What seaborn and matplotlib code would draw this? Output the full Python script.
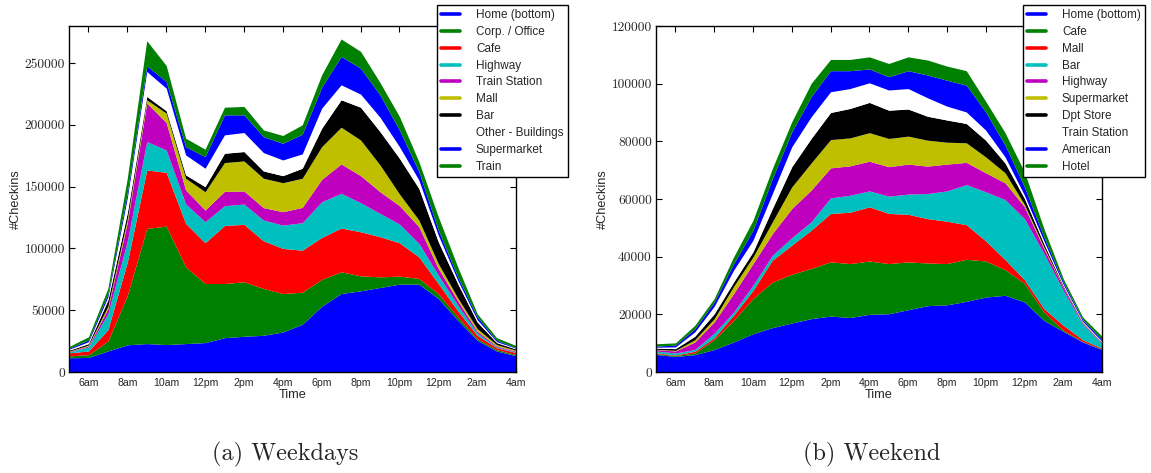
import numpy as np
import matplotlib
matplotlib.use("Agg")
import matplotlib.pyplot as plt
import seaborn as sns
from matplotlib.lines import Line2D

# ---------------- data ----------------
hours = np.arange(24)                      # 0 = 5am ... 23 = 4am
tick_pos = np.arange(1, 24, 2)
tick_labels = ['6am', '8am', '10am', '12pm', '2pm', '4pm', '6pm', '8pm',
               '10pm', '12pm', '2am', '4am']

# Weekdays: upper edge of each stacked layer (cumulative #checkins)
wd_labels = ['Home (bottom)', 'Corp. / Office', 'Cafe', 'Highway', 'Train Station',
             'Mall', 'Bar', 'Other - Buildings', 'Supermarket', 'Train']
wd_home = [11500, 11800, 17000, 22000, 23000, 22200, 23000, 23800, 27800, 28900, 29700, 32400,
           38600, 53200, 63500, 65700, 68400, 71100, 71100, 59500, 41900, 25700, 17000, 13200]
wd_corp = [13000, 14000, 25000, 62000, 116200, 118100, 85100, 71600, 71600, 73000, 67600, 63500,
           64600, 74900, 81100, 77800, 77000, 77600, 75700, 63500, 44600, 27000, 18100, 14100]
wd_cafe = [15500, 17000, 34300, 89000, 163500, 161600, 120300, 104600, 118600, 119500, 106200, 100000,
           98600, 108900, 116500, 113500, 109500, 104600, 93200, 71600, 49500, 29700, 19700, 15700]
wd_highway = [16200, 20300, 47300, 106000, 186500, 179700, 136000, 121600, 134600, 135900, 123000, 118900,
              120800, 137800, 144600, 137000, 128400, 119700, 104100, 78400, 54100, 31600, 20300, 16200]
wd_trainst = [16500, 21100, 51300, 121000, 217600, 201900, 147300, 131100, 146200, 146500, 133000, 129700,
              133200, 155900, 168400, 158900, 145900, 134600, 117600, 83800, 57600, 33000, 21100, 16800]
wd_mall = [16800, 21800, 53300, 124000, 220300, 209500, 156800, 145900, 169500, 170800, 156800, 153200,
           156800, 182400, 198100, 187800, 167600, 144100, 123000, 87800, 60000, 35100, 22200, 17600]
wd_bar = [17600, 23000, 58300, 129000, 223000, 211500, 159500, 150000, 177000, 178400, 162700, 158900,
          164900, 197300, 220300, 214300, 194600, 173000, 148600, 105400, 71600, 40500, 23800, 18600]
wd_other = [18400, 24500, 60800, 141000, 243200, 229700, 175700, 164900, 191900, 193800, 177600, 171600,
            176500, 213500, 232400, 224900, 206200, 182400, 155400, 110800, 74300, 42400, 24600, 19200]
wd_super = [19100, 26000, 63300, 145000, 247800, 235100, 182400, 174300, 208100, 208100, 190500, 185100,
            192400, 230500, 255400, 245900, 224300, 195900, 162200, 114900, 77000, 44600, 25700, 19700]
wd_train = [20600, 28500, 67800, 157000, 268100, 248100, 189200, 180300, 214300, 214900, 195900, 191400,
            200000, 240500, 269500, 259500, 234300, 206800, 170300, 125700, 85100, 47300, 27800, 21400]

# Weekend: upper edge of each stacked layer (cumulative #checkins)
we_labels = ['Home (bottom)', 'Cafe', 'Mall', 'Bar', 'Highway', 'Supermarket',
             'Dpt Store', 'Train Station', 'American', 'Hotel']
we_home = [6100, 5400, 6000, 7800, 10400, 13300, 15400, 17000, 18500, 19400, 18900, 20000,
           20200, 21600, 23000, 23300, 24500, 26000, 26600, 24300, 17900, 14100, 10400, 7800]
we_cafe = [6400, 5700, 6600, 11200, 17900, 25500, 31200, 33900, 35900, 38200, 37600, 38500,
           37600, 38200, 37800, 37600, 39100, 38500, 35500, 30700, 20800, 14500, 10600, 8000]
we_mall = [6700, 5900, 7200, 11900, 19700, 28300, 38800, 44000, 49200, 55000, 55400, 57300,
           55000, 54700, 53200, 52300, 51100, 45500, 39000, 32000, 22000, 16200, 11200, 8300]
we_bar = [7300, 6600, 7800, 13500, 20800, 30100, 40500, 46600, 52100, 60400, 61300, 62800,
          61000, 61700, 61900, 62800, 65000, 62500, 59800, 53200, 41100, 28300, 16500, 9800]
we_highway = [7800, 7300, 10400, 17400, 27200, 37600, 48000, 56700, 63100, 70800, 71500, 73100,
              71200, 72100, 71400, 72100, 72700, 69100, 65600, 57300, 42800, 29300, 16800, 10100]
we_super = [7900, 7500, 11200, 18500, 29700, 39900, 52100, 64200, 72500, 80600, 81200, 83000,
            81000, 81800, 80400, 79700, 79500, 74600, 69100, 58100, 43400, 29500, 16900, 10200]
we_dpt = [8300, 8100, 12400, 20200, 31200, 41700, 56700, 71200, 81000, 90000, 91400, 93500,
          90800, 91200, 88700, 87400, 86200, 80400, 72500, 60200, 44500, 29900, 17200, 10300]
we_trainst = [8600, 8700, 13900, 22800, 35300, 45700, 61900, 78100, 88500, 97200, 98300, 100300,
              97800, 98300, 95100, 92200, 90200, 83900, 74600, 61300, 45500, 30400, 17600, 10600]
we_american = [9000, 9300, 15000, 24300, 37600, 49200, 67100, 83300, 95500, 104500, 104500, 105100,
               102400, 104500, 103000, 101200, 99500, 90200, 78700, 64200, 46900, 31200, 18200, 11200]
we_hotel = [9800, 10100, 16200, 25500, 39900, 52600, 70600, 86800, 100100, 108400, 108400, 109300,
            107000, 109300, 108200, 106100, 104500, 93900, 83000, 69400, 49800, 32400, 19100, 12400]

layer_colors = [(0, 0, 1), (0, 0.5, 0), (1, 0, 0), (0, 0.75, 0.75), (0.75, 0, 0.75),
                (0.75, 0.75, 0), (0, 0, 0), (1, 1, 1), (0, 0, 1), (0, 0.5, 0)]

# ---------------- style ----------------
sns.set_style("ticks")
plt.rcParams['font.family'] = ['Liberation Sans', 'DejaVu Sans']

fig = plt.figure(figsize=(11.51, 4.73), dpi=100)
ax1 = fig.add_axes([69 / 1151, 101 / 473, 447 / 1151, 346 / 473])
ax2 = fig.add_axes([656 / 1151, 101 / 473, 446 / 1151, 346 / 473])


def draw(ax, tops, labels, ymax, yticks, legend_x):
    cum = np.array(tops, dtype=float)
    counts = np.diff(np.vstack([np.zeros(cum.shape[1]), cum]), axis=0)
    ax.stackplot(hours, counts, colors=layer_colors, linewidth=0, antialiased=True)
    ax.set_xlim(0, 23)
    ax.set_ylim(0, ymax)
    ax.set_xticks(tick_pos)
    ax.set_xticklabels(tick_labels, fontsize=7.6)
    ax.set_yticks(yticks)
    ax.set_yticklabels([str(v) for v in yticks], fontfamily='cmr10', fontsize=9.7)
    ax.tick_params(direction='in', top=True, right=True, length=4, width=0.8,
                   color='black', pad=3)
    ax.tick_params(axis='x', pad=4)
    for s in ax.spines.values():
        s.set_linewidth(1.0)
        s.set_color('black')
    ax.set_xlabel('Time', fontsize=9.2, labelpad=1)
    ax.set_ylabel('#Checkins', fontsize=9.2, labelpad=2)
    handles = [Line2D([], [], color=c, lw=2.6) for c in layer_colors]
    leg = ax.legend(handles, labels, loc='upper left',
                    bbox_to_anchor=(legend_x, 1 - 5 / 473),
                    bbox_transform=fig.transFigure, borderaxespad=0,
                    fontsize=8.5, frameon=True, fancybox=False, framealpha=1,
                    edgecolor='black', handlelength=1.6, handletextpad=1.35,
                    labelspacing=0.41, borderpad=0.35)
    leg.get_frame().set_linewidth(1.0)
    leg.set_zorder(10)


draw(ax1, [wd_home, wd_corp, wd_cafe, wd_highway, wd_trainst, wd_mall, wd_bar,
           wd_other, wd_super, wd_train], wd_labels, 280000,
     [0, 50000, 100000, 150000, 200000, 250000], 437 / 1151)
draw(ax2, [we_home, we_cafe, we_mall, we_bar, we_highway, we_super, we_dpt,
           we_trainst, we_american, we_hotel], we_labels, 120000,
     [0, 20000, 40000, 60000, 80000, 100000, 120000], 1023 / 1151)

fig.text(285 / 1151, 1 - 454 / 473, '(a) Weekdays', fontfamily='cmr10', fontsize=17.5,
         ha='center', va='center')
fig.text(872 / 1151, 1 - 454 / 473, '(b) Weekend', fontfamily='cmr10', fontsize=17.5,
         ha='center', va='center')

fig.savefig('out.png', dpi=100)
